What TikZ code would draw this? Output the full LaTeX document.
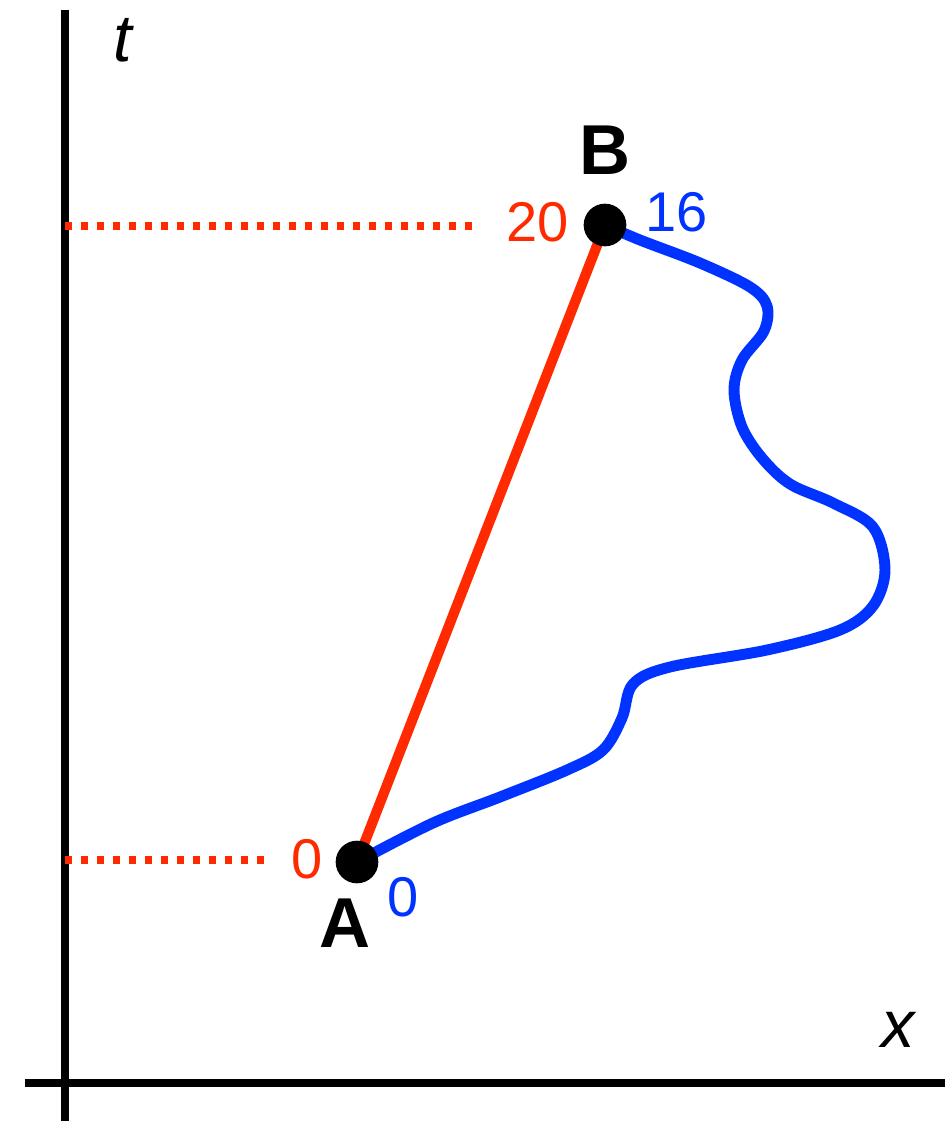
\documentclass[tikz,border=0pt]{standalone}
\usepackage{fontspec}
\setmainfont{Liberation Sans}
\usetikzlibrary{positioning,calc}
\definecolor{Ink}{HTML}{000000}
\definecolor{Path}{HTML}{FF2A00}
\definecolor{Walk}{HTML}{0033FF}
\tikzset{
  axis/.style={draw=Ink,line width=5.4pt},
  guide/.style={draw=Path,line width=5.8pt,dash pattern=on 5.6pt off 6.4pt},
  event/.style={circle,fill=Ink,minimum size=32pt,inner sep=0pt},
  straight/.style={draw=Path,line width=7.6pt},
  wiggly/.style={draw=Walk,line width=8.2pt,line cap=round,line join=round},
  eventlabel/.style={font=\fontsize{53}{60}\selectfont\bfseries,text=Ink,inner sep=0pt},
  redtag/.style={font=\fontsize{42}{50}\selectfont,text=Path,inner sep=0pt},
  bluetag/.style={font=\fontsize{42}{50}\selectfont,text=Walk,inner sep=0pt},
  axislabel/.style={font=\fontsize{50}{60}\selectfont\itshape,text=Ink,inner sep=0pt}
}
\begin{document}
\begin{tikzpicture}[x=0.75pt,y=-0.75pt]
  \useasboundingbox (0,0) rectangle (947,1121);
  % axes
  \coordinate (top) at (65,10);
  \coordinate (bottom) at (65,1121);
  \coordinate (left) at (25,1083);
  \coordinate (right) at (945,1083);
  \draw[axis] (top) -- (bottom);
  \draw[axis,line width=6pt] (left) -- (right);
  \node[axislabel] (t) at (123,40) {t};
  \node[axislabel] (x) at (898,1030) {x};
  % events
  \coordinate (a) at (357,862);
  \coordinate (b) at (605,225);
  \coordinate (ta) at (65,860);
  \coordinate (tb) at (65,226);
  \coordinate (ga) at (268,860);
  \coordinate (gb) at (472,226);
  \draw[guide] (ta) -- (ga);
  \draw[guide] (tb) -- (gb);
  \draw[straight] (a) -- (b);
  \draw[wiggly] plot[smooth,tension=0.55] coordinates {
    (a) (433,823) (500,797) (567,770) (603,750) (622,718) (633,684)
    (670,667) (767,650) (840,630) (873,606) (885,570) (873,527)
    (833,503) (790,484) (762,458) (742,427) (734,390) (742,360)
    (764,331) (767,306) (750,287) (700,263) (640,240) (b)};
  \node[event] (dotA) at (a) {};
  \node[event] (dotB) at (b) {};
  % labels
  \node[eventlabel] (labA) at (345,923) {A};
  \node[eventlabel] (labB) at (605,150) {B};
  \node[redtag] (ra) at (307,859) {0};
  \node[redtag] (rb) at (538,222) {20};
  \node[bluetag] (ba) at (403,897) {0};
  \node[bluetag] (bb) at (677,212) {16};
\end{tikzpicture}
\end{document}
